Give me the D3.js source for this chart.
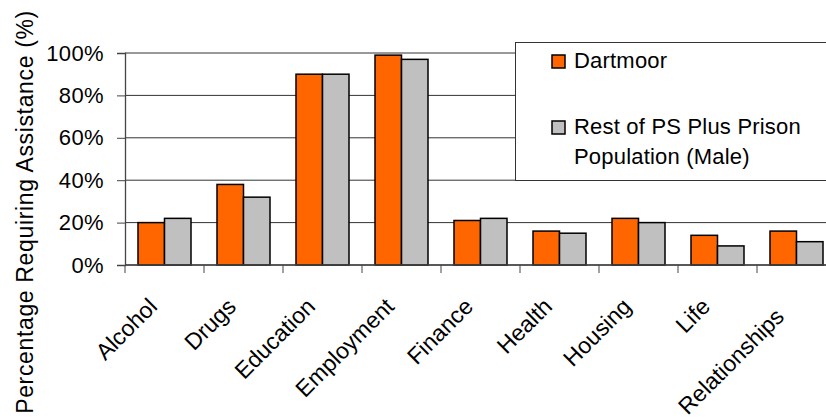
<!DOCTYPE html>
<html>
<head>
<meta charset="utf-8">
<script src="https://cdn.jsdelivr.net/npm/d3@7"></script>
<style>
  body { margin: 0; background: #fff; }
  svg text { font-family: Arial, "Liberation Sans", sans-serif; fill: #000; }
</style>
</head>
<body>
<svg id="chart"></svg>
<script>
let categories = ['Alcohol', 'Drugs', 'Education', 'Employment', 'Finance', 'Health', 'Housing', 'Life', 'Relationships'];
let seriesNames = ['Dartmoor', 'Rest of PS Plus Prison Population (Male)'];
let dartmoor = [20, 38, 90, 99, 21, 16, 22, 14, 16];
let restOfPS = [22, 32, 90, 97, 22, 15, 20, 9, 11];
let yTicks = [0, 20, 40, 60, 80, 100];

let colors = ['#ff6600', '#c0c0c0'];
let width = 826, height = 420;
let plotLeft = 125, plotTop = 53, plotBottom = 265, bandW = 79;

let svg = d3.select('#chart')
		.attr('width', width)
		.attr('height', height);

let x = d3.scaleBand()
		.domain(categories)
		.range([plotLeft, plotLeft + bandW * categories.length]);

let xs = d3.scaleBand()
		.domain(seriesNames)
		.range([13, x.bandwidth() - 13]);

let y = d3.scaleLinear()
		.domain([0, 100])
		.range([plotBottom, plotTop]);

// gridlines
svg.append('g')
	.selectAll('line')
	.data(yTicks)
	.enter().append('line')
		.attr('x1', plotLeft)
		.attr('x2', width)
		.attr('y1', d => y(d))
		.attr('y2', d => y(d))
		.attr('stroke', '#333')
		.attr('stroke-width', 1);

// y axis
let yAxis = svg.append('g')
		.attr('transform', 'translate(' + plotLeft + ',0)')
		.call(d3.axisLeft(y).tickValues(yTicks).tickFormat(d => d + '%').tickSize(8).tickPadding(13));
yAxis.select('.domain').attr('stroke', '#444').attr('stroke-width', 1.3);
yAxis.selectAll('.tick line').attr('stroke', '#444');
yAxis.selectAll('text').style('font-size', '22px').style('letter-spacing', '0.4px');

// bars
let rows = categories.map((c, i) => ({ cat: c, vals: [dartmoor[i], restOfPS[i]] }));

let group = svg.selectAll('g.cat')
		.data(rows)
	.enter().append('g')
		.attr('class', 'cat')
		.attr('transform', d => 'translate(' + x(d.cat) + ',0)');

group.selectAll('rect')
		.data(d => d.vals.map((v, j) => ({ name: seriesNames[j], v: v, j: j })))
	.enter().append('rect')
		.attr('x', d => xs(d.name))
		.attr('width', xs.bandwidth())
		.attr('y', d => y(d.v))
		.attr('height', d => y(0) - y(d.v))
		.attr('fill', d => colors[d.j])
		.attr('stroke', '#000')
		.attr('stroke-width', 1.5);

// x axis line and ticks between categories
svg.append('line')
	.attr('x1', plotLeft).attr('x2', width)
	.attr('y1', plotBottom).attr('y2', plotBottom)
	.attr('stroke', '#444').attr('stroke-width', 1.3);

svg.append('g')
	.selectAll('line')
	.data(categories)
	.enter().append('line')
		.attr('x1', d => x(d)).attr('x2', d => x(d))
		.attr('y1', plotBottom).attr('y2', plotBottom + 8)
		.attr('stroke', '#444');

// the last label sits a little lower, as in the original
svg.append('g')
	.selectAll('text')
	.data(categories)
	.enter().append('text')
		.attr('transform', (d, i) => {
			let last = i === categories.length - 1;
			let cx = x(d) + x.bandwidth() / 2 + (last ? -11 : -6);
			return 'translate(' + cx + ',' + (last ? 318 : 308) + ') rotate(-45)';
		})
		.attr('text-anchor', 'end')
		.style('font-size', '23px')
		.text(d => d);

// y title
svg.append('text')
	.attr('transform', 'rotate(-90)')
	.attr('x', -212)
	.attr('y', 33)
	.attr('text-anchor', 'middle')
	.style('font-size', '23px')
	.style('letter-spacing', '0.65px')
	.text('Percentage Requiring Assistance (%)');

// legend
let legend = svg.append('g');
legend.append('rect')
	.attr('x', 515.5).attr('y', 42.5)
	.attr('width', 330).attr('height', 138)
	.attr('fill', '#fff')
	.attr('stroke', '#333')
	.attr('stroke-width', 1);

let legendRows = [
	{ lines: ['Dartmoor'], y: 55 },
	{ lines: ['Rest of PS Plus Prison', 'Population (Male)'], y: 121 }
];

legendRows.forEach((r, i) => {
	legend.append('rect')
		.attr('x', 552).attr('y', r.y)
		.attr('width', 13).attr('height', 13)
		.attr('fill', colors[i])
		.attr('stroke', '#000')
		.attr('stroke-width', 1.5);
	let t = legend.append('text')
		.attr('x', 574)
		.attr('y', r.y + 13)
		.style('font-size', '22px')
		.style('letter-spacing', '0.2px');
	r.lines.forEach((l, k) => {
		t.append('tspan')
			.attr('x', 574)
			.attr('dy', k === 0 ? 0 : 30)
			.text(l);
	});
});
</script>
</body>
</html>
